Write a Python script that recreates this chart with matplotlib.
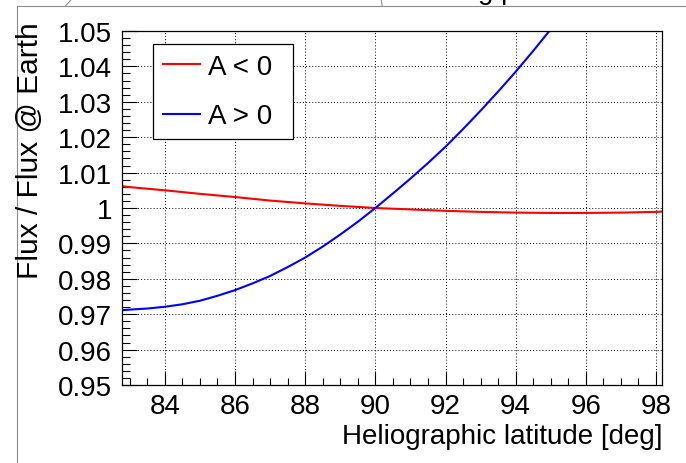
import matplotlib
matplotlib.use("Agg")
import matplotlib.pyplot as plt
from matplotlib.lines import Line2D
from matplotlib.ticker import MultipleLocator, FuncFormatter

plt.rcParams['font.family'] = ['Liberation Sans', 'DejaVu Sans']

# heliographic latitude [deg]
lat = [82.75, 83, 84, 85, 86, 87, 88, 89, 90, 91, 92, 93, 94, 95, 96, 97, 98, 98.2]
# flux ratio, A < 0
flux_neg = [1.0062, 1.0059, 1.0050, 1.0040, 1.0031, 1.0021, 1.0013, 1.0006, 1.0000,
            0.9996, 0.9992, 0.9989, 0.9987, 0.9986, 0.9986, 0.9987, 0.9989, 0.9990]
# flux ratio, A > 0 (leaves the frame above 1.05)
lat_pos = [82.75, 83, 83.5, 84, 84.5, 85, 85.5, 86, 86.5, 87, 87.5, 88, 88.5, 89, 89.5,
           90, 90.5, 91, 91.5, 92, 92.5, 93, 93.5, 94, 94.5, 95]
flux_pos = [0.9711, 0.9713, 0.9716, 0.9721, 0.9728, 0.9738, 0.9752, 0.9768, 0.9787,
            0.9808, 0.9833, 0.9860, 0.9891, 0.9925, 0.9961, 1.0000, 1.0041, 1.0083,
            1.0127, 1.0173, 1.0223, 1.0275, 1.0329, 1.0385, 1.0444, 1.0505]

W, H = 686, 464
fig = plt.figure(figsize=(W / 100, H / 100), dpi=100)

# pad frame remnants from the canvas
fig.add_artist(Line2D([17 / W, 17 / W], [0, 1 - 7 / H], color='#8c8c8c', lw=0.8))
fig.add_artist(Line2D([17 / W, 1], [1 - 7 / H, 1 - 7 / H], color='#8c8c8c', lw=0.8))
fig.add_artist(Line2D([65.7 / W, 71.7 / W], [1 - 6.7 / H, 1], color='#8c8c8c', lw=0.8))
fig.add_artist(Line2D([382.3 / W, 381 / W], [1 - 6.7 / H, 1], color='#8c8c8c', lw=0.8))
fig.text(478 / W, 1 + 1 / H, 'g p', fontsize=20, ha='left', va='baseline')

ax = fig.add_axes([122 / W, 1 - 386 / H, 540 / W, 354 / H])
ax.plot(lat, flux_neg, color='#ff0000', lw=1.5, label='A < 0')
ax.plot(lat_pos, flux_pos, color='#0000ff', lw=1.5, label='A > 0')

ax.set_xlim(82.78, 98.17)
ax.set_ylim(0.95, 1.05)

ax.xaxis.set_major_locator(MultipleLocator(2))
ax.xaxis.set_minor_locator(MultipleLocator(0.5))
ax.yaxis.set_major_locator(MultipleLocator(0.01))
ax.yaxis.set_minor_locator(MultipleLocator(0.002))
ax.yaxis.set_major_formatter(FuncFormatter(lambda v, p: '%g' % round(v, 3)))

ax.tick_params(which='both', direction='in', top=False, right=False, labelsize=20, width=0.8)
ax.tick_params(axis='x', which='major', length=10, pad=6)
ax.tick_params(axis='x', which='minor', length=5)
ax.tick_params(axis='y', which='major', length=11, pad=7)
ax.tick_params(axis='y', which='minor', length=6)

ax.grid(True, which='major', color='black', lw=0.7, linestyle=(0, (1, 2.2)))
for s in ax.spines.values():
    s.set_linewidth(0.9)

x0 = (153 - 122) / 540
x1 = (293 - 122) / 540
ytop = (386 - 45) / 354
leg = ax.legend(loc='upper left', bbox_to_anchor=(x0, ytop - 0.3, x1 - x0, 0.3),
                mode='expand', borderaxespad=0, fancybox=False, framealpha=1,
                edgecolor='black', fontsize=20, handlelength=1.35, handletextpad=0.28,
                labelspacing=0.85, borderpad=0.35)
leg.get_frame().set_linewidth(0.9)

fig.text(30 / W, 1 - 22 / H, 'Flux / Flux @ Earth', rotation=90, fontsize=21.5,
         ha='center', va='top')
fig.text(662 / W, 1 - 437 / H, 'Heliographic latitude [deg]', fontsize=20,
         ha='right', va='center')

fig.savefig('out.png', dpi=100)
